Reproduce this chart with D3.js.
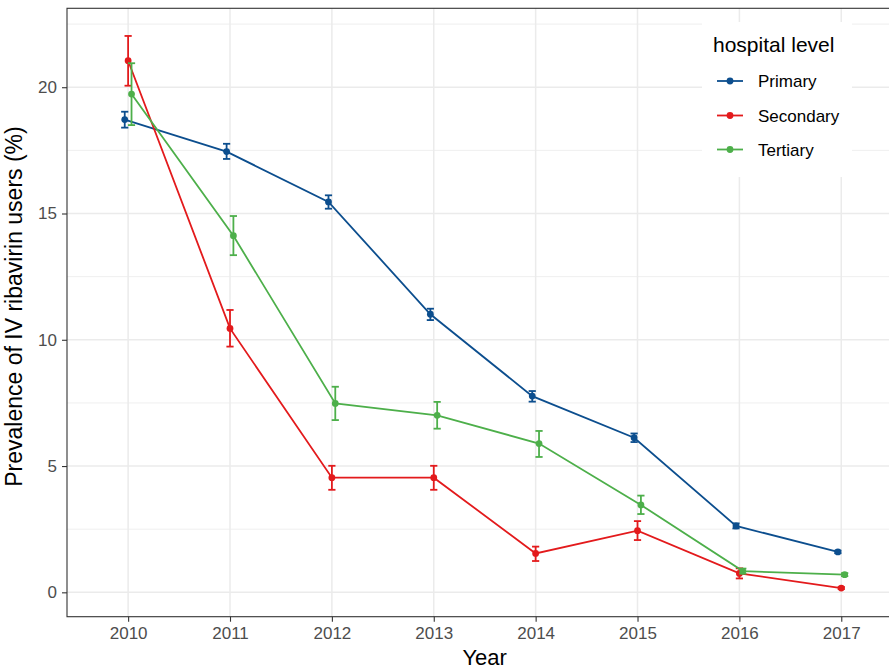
<!DOCTYPE html>
<html>
<head>
<meta charset="utf-8">
<script src="https://cdn.jsdelivr.net/npm/d3@7"></script>
<style>
  html, body { margin: 0; padding: 0; background: #fff; }
  svg { display: block; font-family: "Liberation Sans", Arial, sans-serif; }
</style>
</head>
<body>
<svg id="chart" width="889" height="670"></svg>
<script>
// Years on the x axis
const years = [2010, 2011, 2012, 2013, 2014, 2015, 2016, 2017];
// Hospital levels (legend order)
const levels = ["Primary", "Secondary", "Tertiary"];
const levelColors = ["#0C4E8E", "#E31A1C", "#4DAF4A"];

// Prevalence (%) by level, with lower / upper bounds of the error bars
const primaryValue = [18.72, 17.45, 15.46, 11.01, 7.77, 6.12, 2.63, 1.60];
const primaryLower = [18.40, 17.16, 15.19, 10.78, 7.55, 5.95, 2.53, 1.55];
const primaryUpper = [19.03, 17.76, 15.72, 11.23, 7.97, 6.29, 2.73, 1.65];

const secondaryValue = [21.05, 10.45, 4.54, 4.54, 1.54, 2.44, 0.75, 0.17];
const secondaryLower = [20.06, 9.73, 4.06, 4.06, 1.24, 2.07, 0.55, 0.13];
const secondaryUpper = [22.03, 11.18, 5.01, 5.01, 1.81, 2.82, 0.95, 0.21];

const tertiaryValue = [19.73, 14.12, 7.48, 7.01, 5.89, 3.46, 0.84, 0.70];
const tertiaryLower = [18.50, 13.35, 6.82, 6.48, 5.36, 3.10, 0.74, 0.64];
const tertiaryUpper = [20.95, 14.90, 8.14, 7.54, 6.39, 3.83, 0.94, 0.76];

const yTicks = [0, 5, 10, 15, 20];
const yMinorTicks = [2.5, 7.5, 12.5, 17.5, 22.5];

const series = [
  { name: levels[0], color: levelColors[0], value: primaryValue, lower: primaryLower, upper: primaryUpper },
  { name: levels[1], color: levelColors[1], value: secondaryValue, lower: secondaryLower, upper: secondaryUpper },
  { name: levels[2], color: levelColors[2], value: tertiaryValue, lower: tertiaryLower, upper: tertiaryUpper }
];

const svg = d3.select("#chart");

// Panel area (the right part runs past the visible canvas)
const panel = { left: 67, top: 8.3, right: 902.4, bottom: 616.7 };

const x = d3.scalePoint()
  .domain(years)
  .range([panel.left, panel.right])
  .padding(0.6);
const step = x.step();

// Continuous y with 5% expansion of the data range
const lo = d3.min(series, s => d3.min(s.lower));
const hi = d3.max(series, s => d3.max(s.upper));
const pad = (hi - lo) * 0.05;
const y = d3.scaleLinear()
  .domain([lo - pad, hi + pad])
  .range([panel.bottom, panel.top]);

// Dodge offsets for the three levels
const dodgeWidth = 0.1;
const offset = i => (i - (levels.length - 1) / 2) * (dodgeWidth / levels.length) * step;

const grid = svg.append("g");
// minor gridlines
grid.selectAll("line.ymin").data(yMinorTicks).join("line")
  .attr("x1", panel.left).attr("x2", panel.right)
  .attr("y1", d => y(d)).attr("y2", d => y(d))
  .attr("stroke", "#EBEBEB").attr("stroke-width", 0.8);
// major gridlines
grid.selectAll("line.ymaj").data(yTicks).join("line")
  .attr("x1", panel.left).attr("x2", panel.right)
  .attr("y1", d => y(d)).attr("y2", d => y(d))
  .attr("stroke", "#EBEBEB").attr("stroke-width", 1.5);
grid.selectAll("line.xmaj").data(years).join("line")
  .attr("x1", d => x(d)).attr("x2", d => x(d))
  .attr("y1", panel.top).attr("y2", panel.bottom)
  .attr("stroke", "#EBEBEB").attr("stroke-width", 1.5);

// Data layers
const lw = 1.8;
const plot = svg.append("g");
series.forEach((s, i) => {
  const pts = years.map((yr, k) => ({
    x: x(yr) + offset(i), v: s.value[k], lo: s.lower[k], hi: s.upper[k]
  }));
  const g = plot.append("g");
  // error bars
  const capHalf = 3.6;
  const eb = g.selectAll("g.eb").data(pts).join("g");
  eb.append("line")
    .attr("x1", d => d.x).attr("x2", d => d.x)
    .attr("y1", d => y(d.lo)).attr("y2", d => y(d.hi))
    .attr("stroke", s.color).attr("stroke-width", lw);
  eb.append("line")
    .attr("x1", d => d.x - capHalf).attr("x2", d => d.x + capHalf)
    .attr("y1", d => y(d.lo)).attr("y2", d => y(d.lo))
    .attr("stroke", s.color).attr("stroke-width", lw);
  eb.append("line")
    .attr("x1", d => d.x - capHalf).attr("x2", d => d.x + capHalf)
    .attr("y1", d => y(d.hi)).attr("y2", d => y(d.hi))
    .attr("stroke", s.color).attr("stroke-width", lw);
  // line
  g.append("path")
    .datum(pts)
    .attr("fill", "none")
    .attr("stroke", s.color)
    .attr("stroke-width", lw)
    .attr("d", d3.line().x(d => d.x).y(d => y(d.v)));
  // points
  g.selectAll("circle").data(pts).join("circle")
    .attr("cx", d => d.x).attr("cy", d => y(d.v))
    .attr("r", 3.4).attr("fill", s.color);
});

// Panel border
svg.append("rect")
  .attr("x", panel.left).attr("y", panel.top)
  .attr("width", panel.right - panel.left)
  .attr("height", panel.bottom - panel.top)
  .attr("fill", "none").attr("stroke", "#333333").attr("stroke-width", 1.1);

// Axes
const xAxis = svg.append("g")
  .attr("transform", `translate(0,${panel.bottom})`)
  .call(d3.axisBottom(x).tickSize(5).tickPadding(5));
const yAxis = svg.append("g")
  .attr("transform", `translate(${panel.left},0)`)
  .call(d3.axisLeft(y).tickValues(yTicks).tickSize(5).tickPadding(5).tickFormat(d3.format("d")));
[xAxis, yAxis].forEach(ax => {
  ax.select(".domain").remove();
  ax.selectAll(".tick line").attr("stroke", "#333333").attr("stroke-width", 1.1);
  ax.selectAll(".tick text")
    .attr("fill", "#4D4D4D")
    .style("font-size", "17px")
    .style("font-family", "'Liberation Sans', Arial, sans-serif");
});

// Axis titles
svg.append("text")
  .attr("x", (panel.left + panel.right) / 2)
  .attr("y", 665)
  .attr("text-anchor", "middle")
  .style("font-size", "22px")
  .attr("fill", "#000")
  .text("Year");
svg.append("text")
  .attr("transform", `translate(22,${(panel.top + panel.bottom) / 2 - 6}) rotate(-90)`)
  .attr("text-anchor", "middle")
  .style("font-size", "23px")
  .attr("fill", "#000")
  .text("Prevalence of IV ribavirin users (%)");

// Legend
const legend = svg.append("g");
legend.append("rect")
  .attr("x", 702).attr("y", 22).attr("width", 150).attr("height", 155)
  .attr("fill", "#fff");
legend.append("text")
  .attr("x", 713).attr("y", 52)
  .style("font-size", "21px")
  .attr("fill", "#000")
  .text("hospital level");
const keyY = [81, 115.5, 149.5];
const items = legend.selectAll("g.item").data(series).join("g")
  .attr("transform", (d, i) => `translate(0,${keyY[i]})`);
items.append("line")
  .attr("x1", 717).attr("x2", 743).attr("y1", 0).attr("y2", 0)
  .attr("stroke", d => d.color).attr("stroke-width", lw);
items.append("circle")
  .attr("cx", 730).attr("cy", 0).attr("r", 3.4)
  .attr("fill", d => d.color);
items.append("text")
  .attr("x", 758).attr("y", 0).attr("dy", "0.36em")
  .style("font-size", "17px")
  .attr("fill", "#000")
  .text(d => d.name);
</script>
</body>
</html>
